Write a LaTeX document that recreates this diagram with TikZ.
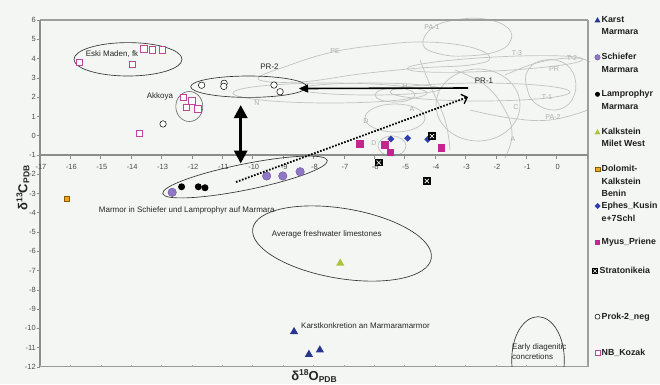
\documentclass[tikz,border=0pt]{standalone}
\usepackage{fontspec}
\setmainfont{Liberation Sans}
\usetikzlibrary{arrows.meta,shapes.geometric}
\definecolor{bgc}{HTML}{F4F6F3}
\definecolor{karstc}{HTML}{28358F}
\definecolor{schc}{HTML}{9077C4}
\definecolor{schd}{HTML}{6A55A0}
\definecolor{kalkc}{HTML}{A9C43A}
\definecolor{doloc}{HTML}{F0A818}
\definecolor{dolod}{HTML}{8A5A00}
\definecolor{ephc}{HTML}{2F3FB0}
\definecolor{myusc}{HTML}{C4268E}
\definecolor{nbc}{HTML}{C0459A}
\tikzset{
  lbl/.style={font=\fontsize{8}{9}\selectfont, text=black!85, inner sep=0pt},
  glbl/.style={font=\fontsize{7}{8}\selectfont, text=black!32, inner sep=0pt},
  ticklbl/.style={font=\fontsize{7.5}{8}\selectfont, text=black!70, inner sep=0pt},
  legtxt/.style={font=\fontsize{8.8}{12.5}\selectfont\bfseries, text=black!88, align=left, anchor=north west, inner sep=0pt},
  gcurve/.style={draw=black!24, line width=0.7pt},
  grp/.style={draw=black!80, line width=0.65pt},
  axisl/.style={draw=black!45, line width=1.3pt},
  mk/.style={inner sep=0pt, outer sep=0pt},
  karst/.style={mk, regular polygon, regular polygon sides=3, fill=karstc, minimum size=9.5pt},
  schief/.style={mk, circle, fill=schc, draw=schd, line width=0.4pt, minimum size=8.5pt},
  lampro/.style={mk, circle, fill=black, minimum size=7pt},
  kalk/.style={mk, regular polygon, regular polygon sides=3, fill=kalkc, minimum size=9.5pt},
  dolo/.style={mk, rectangle, fill=doloc, draw=dolod, line width=0.5pt, minimum size=4.5pt},
  ephes/.style={mk, diamond, fill=ephc, minimum size=7pt},
  myus/.style={mk, rectangle, fill=myusc, minimum size=7.5pt},
  strat/.style={mk, rectangle, fill=black, minimum size=7.5pt,
    path picture={\draw[white, line width=0.6pt]
      ([shift={(1.6pt,1.6pt)}]path picture bounding box.south west) -- ([shift={(-1.6pt,-1.6pt)}]path picture bounding box.north east)
      ([shift={(1.6pt,-1.6pt)}]path picture bounding box.north west) -- ([shift={(-1.6pt,1.6pt)}]path picture bounding box.south east);}},
  prok/.style={mk, circle, draw=black, fill=white, line width=0.5pt, minimum size=6.5pt},
  nbk/.style={mk, rectangle, draw=nbc, fill=white, line width=0.7pt, minimum size=6.5pt},
}
\begin{document}
\begin{tikzpicture}[x=1pt,y=-1pt]
\useasboundingbox[fill=bgc] (0,0) rectangle (660,384);

% ---------- background grey curves ----------
\draw[gcurve] plot[smooth cycle, tension=0.7] coordinates {(258,79) (290,65) (333,52) (380,45) (425,42) (470,47) (490,58) (470,65) (420,68) (360,74) (300,82)};
\draw[gcurve] (330,93) ellipse [x radius=97, y radius=10];
\draw[gcurve] (370,89) ellipse [x radius=70, y radius=6];
\draw[gcurve] plot[smooth cycle, tension=0.7] coordinates {(423,45) (432,28) (455,20) (485,19) (508,28) (510,42) (495,52) (465,56) (440,54)};
\draw[gcurve, rotate around={3:(495,64)}] (495,64) ellipse [x radius=88, y radius=7];
\draw[gcurve] plot[smooth, tension=0.7] coordinates {(505,75) (540,62) (575,58) (590,62)};
\draw[gcurve] plot[smooth cycle, tension=0.7] coordinates {(527,72) (540,61) (562,62) (575,78) (572,100) (555,110) (535,103) (527,88)};
\draw[gcurve] (478,105) ellipse [x radius=42, y radius=36];
\draw[gcurve] (480,92) ellipse [x radius=90, y radius=9];
\draw[gcurve] plot[smooth, tension=0.7] coordinates {(470,110) (510,118) (550,120) (588,110)};
\draw[gcurve] plot[smooth, tension=0.7] coordinates {(455,70) (485,85) (505,110) (512,135) (505,158)};
\draw[gcurve] (395,118) ellipse [x radius=30, y radius=14];
\draw[gcurve] (392,146) ellipse [x radius=14, y radius=10];
\draw[gcurve] plot[smooth, tension=0.7] coordinates {(420,60) (430,85) (445,120) (450,150)};
\draw[gcurve] (395,95) ellipse [x radius=20, y radius=7];
\node[glbl] (gPE) at (335,51) {PE};
\node[glbl] (gN) at (257,103) {N};
\node[glbl] (gH) at (405,86) {H};
\node[glbl] (gA1) at (412,109) {A};
\node[glbl] (gD1) at (366,121) {D};
\node[glbl] (gD2) at (374,143) {D};
\node[glbl] (gPA1) at (432,27) {PA-1};
\node[glbl] (gT3) at (517,53) {T-3};
\node[glbl] (gT2) at (572,58) {T-2};
\node[glbl] (gPR) at (554,69) {PR};
\node[glbl] (gC) at (516,107) {C};
\node[glbl] (gT1) at (547,97) {T-1};
\node[glbl] (gPA2) at (553,117) {PA-2};
\node[glbl] (gA2) at (513,139) {A};

% ---------- axes and frame ----------
\draw[draw=black!38, line width=1.5pt] (40,20.2) -- (588,20.2);
\draw[draw=black!38, line width=1.1pt] (588,20.2) -- (588,366.7);
\draw[axisl] (40,20.2) -- (40,366.7);
\draw[axisl] (40,155) -- (588,155);
\draw[draw=black!40, line width=1.1pt] (40,366.7) -- (588,366.7);
\foreach \v in {-12,...,6}
  \draw[draw=black!45, line width=0.6pt] (36.5,{135.7-19.27*\v}) -- (40,{135.7-19.27*\v});
\foreach \v in {-17,...,1}{
  \draw[draw=black!45, line width=0.6pt] ({40+30.39*(\v+17)},155) -- ({40+30.39*(\v+17)},158.5);
  \draw[draw=black!35, line width=0.5pt] ({40+30.39*(\v+17)},366.7) -- ({40+30.39*(\v+17)},364.5);
}
\foreach \v in {-12,...,6}
  \node[ticklbl, anchor=east] (yt\v) at (36,{135.7-19.27*\v}) {\v};
\foreach \v in {-17,...,0}
  \node[ticklbl] (xt\v) at ({41+30.39*(\v+17)},167) {\v};

% ---------- axis titles ----------
\node[inner sep=0pt, rotate=90, font=\bfseries\fontsize{13}{14}\selectfont, text=black!85] (ytitle) at (23,188)
  {δ{\fontsize{8.5}{9}\selectfont\raisebox{5pt}{13}}C{\fontsize{8.5}{9}\selectfont\raisebox{-2pt}{PDB}}};
\node[inner sep=0pt, font=\bfseries\fontsize{13}{14}\selectfont, text=black!85] (xtitle) at (314,376)
  {δ{\fontsize{8.5}{9}\selectfont\raisebox{5pt}{18}}O{\fontsize{8.5}{9}\selectfont\raisebox{-2pt}{PDB}}};

% ---------- group outlines ----------
\draw[grp] (128,59.3) ellipse [x radius=54, y radius=16.7];
\draw[draw=black!60, line width=0.6pt] (189.3,106.5) ellipse [x radius=13.5, y radius=15];
\draw[grp] (248.7,86.7) ellipse [x radius=58, y radius=10.7];
\draw[grp, rotate around={11.4:(245,177)}] (245,177) ellipse [x radius=84, y radius=13];
\draw[grp, rotate around={-9.5:(342,243.5)}] (342,243.5) ellipse [x radius=90.5, y radius=35];
\begin{scope}
  \clip (500,300) rectangle (580,366.7);
  \draw[grp] (538,360) ellipse [x radius=26.3, y radius=43.3];
\end{scope}

% ---------- labels ----------
\node[lbl] (leski) at (112,54) {Eski Maden, fk};
\node[lbl] (lakk) at (160,96) {Akkoya};
\node[lbl] (lpr2) at (269.5,67) {PR-2};
\node[lbl] (lpr1) at (484,81) {PR-1};
\node[lbl] (lmarmor) at (186.7,210.5) {Marmor in Schiefer und Lamprophyr auf Marmara};
\node[lbl] (lavg) at (326.7,234) {Average freshwater limestones};
\node[lbl, anchor=west] (lkarst) at (301,326) {Karstkonkretion an Marmaramarmor};
\node[lbl, anchor=north west, align=left, font=\fontsize{8}{10}\selectfont] (learly) at (512,343) {Early diagenitic\\concretions};

% ---------- data points ----------
\begin{scope}[shift={(556.6,135.7)}, x=30.39pt, y=19.27pt]
  \foreach \px/\py [count=\i] in {-15.71/3.81,-13.96/3.71,-13.58/4.51,-13.31/4.46,-12.98/4.46,-13.73/0.12,-12.29/1.99,-12.19/1.47,-12.0/1.80,-11.80/1.39}
    \node[nbk] (nb\i) at (\px,\py) {};
  \foreach \px/\py [count=\i] in {-12.95/0.61,-11.68/2.62,-10.94/2.72,-10.95/2.56,-9.30/2.63,-9.10/2.28}
    \node[prok] (pk\i) at (\px,\py) {};
  \foreach \px/\py [count=\i] in {-12.34/-2.65,-11.79/-2.65,-11.57/-2.70}
    \node[lampro] (lp\i) at (\px,\py) {};
  \foreach \px/\py [count=\i] in {-12.65/-2.94,-9.54/-2.09,-9.01/-2.09,-8.44/-1.87}
    \node[schief] (sc\i) at (\px,\py) {};
  \node[dolo] (do1) at (-16.12,-3.28) {};
  \foreach \px/\py [count=\i] in {-5.45/-0.17,-4.90/-0.13,-4.24/-0.19}
    \node[ephes] (ep\i) at (\px,\py) {};
  \foreach \px/\py [count=\i] in {-6.47/-0.43,-5.65/-0.48,-5.46/-0.86,-3.79/-0.65}
    \node[myus] (my\i) at (\px,\py) {};
  \foreach \px/\py [count=\i] in {-4.10/-0.02,-5.85/-1.40,-4.27/-2.35}
    \node[strat] (st\i) at (\px,\py) {};
  \node[kalk] (ka1) at (-7.12,-6.62) {};
  \foreach \px/\py [count=\i] in {-8.64/-10.17,-8.15/-11.35,-7.79/-11.12}
    \node[karst] (kr\i) at (\px,\py) {};
\end{scope}

% ---------- arrows ----------
\coordinate (pr1) at (468,88);
\coordinate (pr2) at (299,88.5);
\draw[line width=1.6pt, -{Triangle[length=9pt,width=8pt]}] (pr1) -- (pr2);
\coordinate (vt) at (240.7,105);
\coordinate (vb) at (240.7,163.5);
\draw[line width=3pt, {Triangle[length=13pt,width=13pt]}-{Triangle[length=13pt,width=13pt]}] (vt) -- (vb);
\coordinate (ds) at (236,182);
\coordinate (de) at (468,97);
\draw[line width=1.8pt, dash pattern=on 1.6pt off 1.6pt, -{Straight Barb[length=5pt,width=10pt,line width=1.3pt]}] (ds) -- (de);

% ---------- legend ----------
\node[karst, minimum size=7pt] (m1) at (597.5,20.7) {};
\node[legtxt] (t1) at (601.5,16) {Karst\\Marmara};
\node[schief, minimum size=5.5pt] (m2) at (597.5,57.3) {};
\node[legtxt] (t2) at (601.5,53) {Schiefer\\Marmara};
\node[lampro, minimum size=5pt] (m3) at (597.5,94.3) {};
\node[legtxt] (t3) at (601.5,90) {Lamprophyr\\Marmara};
\node[kalk, minimum size=7pt] (m4) at (597.5,132.7) {};
\node[legtxt] (t4) at (601.5,127.5) {Kalkstein\\Milet West};
\node[dolo, minimum size=4.5pt] (m5) at (597.5,169.3) {};
\node[legtxt] (t5) at (601.5,165) {Dolomit-\\Kalkstein\\Benin};
\node[ephes, minimum size=6pt] (m6) at (597.5,206) {};
\node[legtxt] (t6) at (601.5,202) {Ephes\_Kusin\\e+7Schl};
\node[myus, minimum size=5.5pt] (m7) at (597.5,242.3) {};
\node[legtxt] (t7) at (601.5,238) {Myus\_Priene};
\node[strat, minimum size=6.5pt] (m8) at (595,271) {};
\node[legtxt] (t8) at (599.5,267) {Stratonikeia};
\node[prok, minimum size=5pt] (m9) at (597.5,316.7) {};
\node[legtxt] (t9) at (601.5,312.5) {Prok-2\_neg};
\node[nbk, minimum size=5pt] (m10) at (597.5,353.3) {};
\node[legtxt] (t10) at (601.5,349) {NB\_Kozak};
\end{tikzpicture}
\end{document}
